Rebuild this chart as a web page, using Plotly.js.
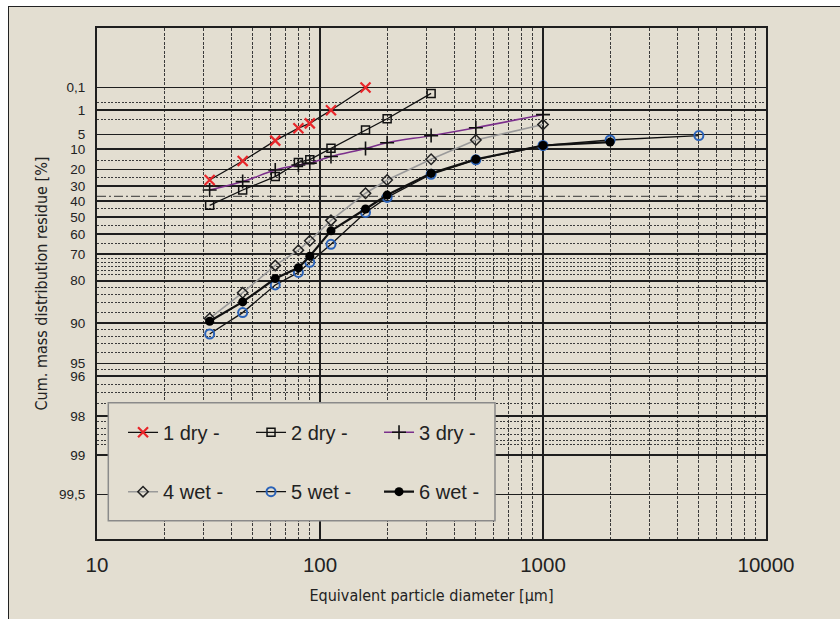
<!DOCTYPE html>
<html><head><meta charset="utf-8">
<script src="https://cdn.plot.ly/plotly-3.0.1.min.js"></script>
<style>
html,body{margin:0;padding:0;background:#fff;overflow:hidden;width:840px;height:619px;}
#frame{position:absolute;left:8px;top:6px;right:-10px;bottom:-10px;background:#e3ded1;border-top:1.5px solid #222;border-left:1.5px solid #222;}
#chart{position:absolute;left:0;top:0;width:840px;height:619px;}
</style></head><body>
<div id="frame"></div><div id="chart"></div>
<script>
// Particle sizes (µm)
const sizes = [32, 45, 63, 80, 90, 112, 160, 200, 315, 500, 1000, 2000, 5000];
// Cumulative mass residue (%)
const dry1 = [26.3, 15.4, 6.8, 3.5, 2.6, 1.0, 0.1];
const dry2 = [42.7, 32.7, 24.2, 16.1, 14.7, 9.6, 3.9, 1.9, 0.2];
const dry3 = [32.7, 27.3, 20.3, 17.5, 16.5, 13.2, 9.7, 7.5, 5.3, 3.4, 1.4];
const wet4 = [89.2, 83.5, 74.6, 68.1, 63.5, 52.1, 34.8, 26.3, 14.5, 6.6, 2.8];
const wet5 = [91.7, 88.1, 81.3, 77.2, 73.4, 65.3, 47.2, 37.5, 22.8, 14.8, 8.5, 6.6, 5.3];
const wet6 = [89.7, 85.8, 79.3, 75.5, 70.8, 58.2, 45.0, 36.0, 22.2, 14.5, 8.5, 7.3];
const names = ['1 dry -', '2 dry -', '3 dry -', '4 wet -', '5 wet -', '6 wet -'];

// Axis ticks
const yMajorVals = [0.1, 1, 5, 10, 20, 30, 40, 50, 60, 70, 80, 90, 95, 96, 98, 99, 99.5];
const yMajorText = ['0,1', '1', '5', '10', '20', '30', '40', '50', '60', '70', '80', '90', '95', '96', '98', '99', '99,5'];
const yMinorVals = [0.5, 2, 15, 25, 45, 55, 65, 72, 73.5, 75, 76.5, 78, 82, 84, 86, 88, 91, 92, 93, 94, 95.5, 96.5, 97, 97.5, 98.2, 98.4, 98.55, 98.7, 98.8];
const yCharacteristic = 100 / Math.E; // 36.8 % line of the RRSB grid
const xTickVals = [10, 100, 1000, 10000];
const xTickText = ['10', '100', '1000', '10000'];
const xMinorVals = [20, 30, 40, 50, 60, 70, 80, 90, 200, 300, 400, 500, 600, 700, 800, 900, 2000, 3000, 4000, 5000, 6000, 7000, 8000, 9000];

// RRSB (Rosin-Rammler) ordinate: ln(ln(1/R))
const rrsb = p => Math.log(-Math.log(p / 100));

const BG = '#e3ded1';
const narrow = '"Liberation Sans Narrow", "DejaVu Sans Condensed", Roboto, sans-serif';

function tr(vals, name, legend, line, marker, shape) {
  return {
    x: sizes.slice(0, vals.length), y: vals.map(rrsb), name: name, legend: legend,
    type: 'scatter', mode: 'lines+markers',
    line: Object.assign({shape: shape || 'linear'}, line), marker: marker,
    hoverinfo: 'skip', cliponaxis: false
  };
}

const data = [
  tr(dry1, names[0], 'legend', {color: '#111', width: 1.3}, {symbol: 'x-thin-open', size: 10, line: {color: '#e8262a', width: 2.2}, color: '#e8262a'}),
  tr(dry2, names[1], 'legend', {color: '#111', width: 1.3}, {symbol: 'square-open', size: 8, color: '#111', line: {width: 1.5}}),
  tr(dry3, names[2], 'legend', {color: '#7b2f8c', width: 1.5}, {symbol: 'cross-thin-open', size: 10, color: '#111', line: {color: '#111', width: 1.6}}, 'spline'),
  tr(wet4, names[3], 'legend2', {color: '#9a9a9a', width: 1.6}, {symbol: 'diamond-open', size: 8, color: '#222', line: {width: 1.5}}),
  tr(wet5, names[4], 'legend2', {color: '#111', width: 1.3}, {symbol: 'circle-open', size: 9, color: '#2a62b8', line: {width: 2}}),
  tr(wet6, names[5], 'legend2', {color: '#111', width: 2.2}, {symbol: 'circle', size: 9, color: '#000'})
];

const legendCommon = {
  orientation: 'h', xanchor: 'left', yanchor: 'middle', bgcolor: 'rgba(0,0,0,0)', borderwidth: 0,
  font: {family: '"Liberation Sans", Arial, sans-serif', size: 20, color: '#222'},
  entrywidth: 83, entrywidthmode: 'pixels', traceorder: 'normal'
};

const layout = {
  width: 840, height: 619,
  margin: {l: 97, r: 74, t: 28, b: 80},
  paper_bgcolor: 'rgba(0,0,0,0)', plot_bgcolor: 'rgba(0,0,0,0)',
  font: {family: '"Liberation Sans", Arial, sans-serif', color: '#222'},
  showlegend: true,
  xaxis: {
    type: 'log', range: [1, 4], tickmode: 'array', tickvals: xTickVals, ticktext: xTickText,
    tickfont: {size: 20.5, color: '#222'}, ticks: '', ticklabelstandoff: 6,
    showgrid: true, gridcolor: '#1e1e1e', gridwidth: 1.8,
    showline: true, linecolor: '#1e1e1e', linewidth: 2, mirror: true, zeroline: false,
    minor: {tickmode: 'array', tickvals: xMinorVals, showgrid: true, gridcolor: '#3a3a3a', gridwidth: 1, griddash: '3px,1.5px', ticks: ''},
    title: {text: 'Equivalent particle diameter [µm]', font: {family: narrow, size: 16, color: '#222'}, standoff: 15},
    automargin: false, fixedrange: true
  },
  yaxis: {
    range: [-6.087, 2.989], tickmode: 'array', tickvals: yMajorVals.map(rrsb), ticktext: yMajorText,
    tickfont: {size: 13.5, color: '#222'}, ticks: '', ticklabelstandoff: 7,
    showgrid: true, gridcolor: '#1e1e1e', gridwidth: 1.8,
    showline: true, linecolor: '#1e1e1e', linewidth: 2, mirror: true, zeroline: false,
    minor: {tickmode: 'array', tickvals: yMinorVals.map(rrsb), showgrid: true, gridcolor: '#3a3a3a', gridwidth: 1, griddash: '2px,1.5px', ticks: ''},
    title: {text: 'Cum. mass distribution residue [%]', font: {family: narrow, size: 16, color: '#222'}, standoff: 7},
    automargin: false, fixedrange: true
  },
  legend: Object.assign({x: 0.0389, y: 0.2088}, legendCommon),
  legend2: Object.assign({x: 0.0389, y: 0.0926}, legendCommon),
  shapes: [
    {type: 'line', xref: 'paper', x0: 0, x1: 1, yref: 'y', y0: rrsb(yCharacteristic), y1: rrsb(yCharacteristic),
     line: {color: '#333', width: 1, dash: '9px,3px,2px,3px'}, layer: 'between'},
    {type: 'rect', xref: 'paper', yref: 'paper', x0: 0.0169, x1: 0.5949, y0: 0.0358, y1: 0.2667,
     fillcolor: BG, line: {color: '#8a8a8a', width: 1.5}, layer: 'above'}
  ]
};

Plotly.newPlot('chart', data, layout, {displayModeBar: false, staticPlot: true});
</script>
</body></html>
